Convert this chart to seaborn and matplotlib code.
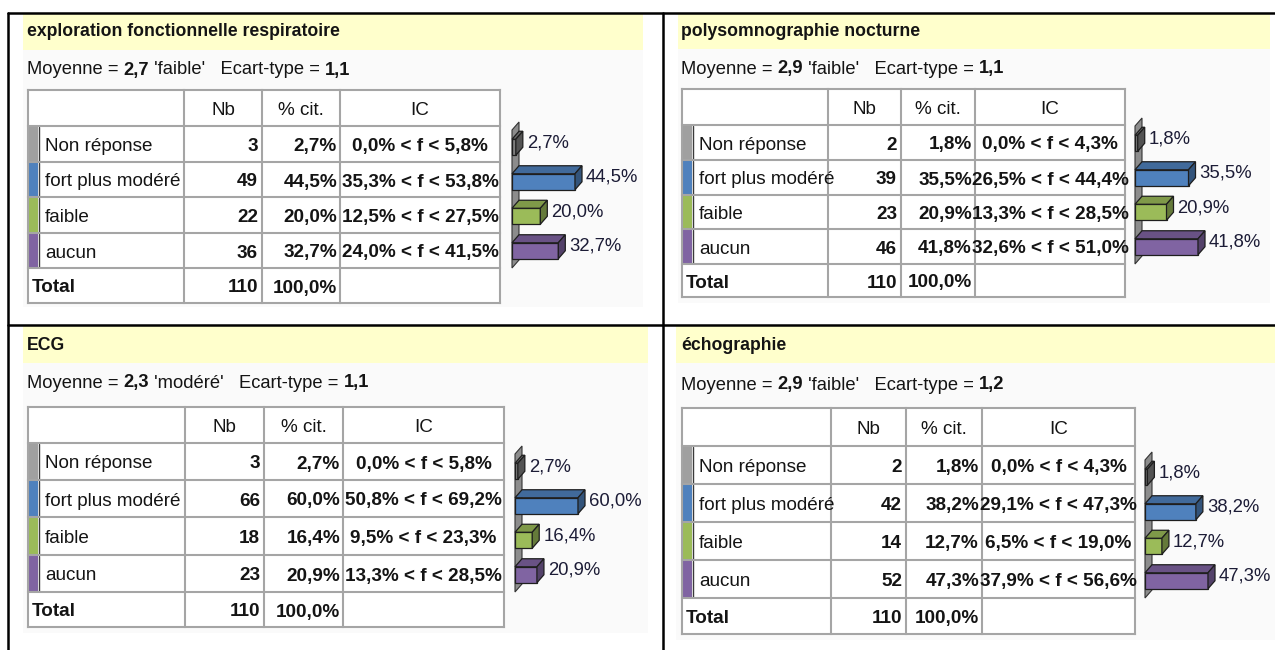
import matplotlib
matplotlib.use("Agg")
import matplotlib.pyplot as plt
import pandas as pd
import seaborn as sns
from matplotlib.patches import Polygon, Rectangle

# ---------------------------------------------------------------------
# data
# ---------------------------------------------------------------------
categories = ["Non réponse", "fort plus modéré", "faible", "aucun"]

titles = ["exploration fonctionnelle respiratoire", "polysomnographie nocturne",
          "ECG", "échographie"]
moyennes = ["2,7", "2,9", "2,3", "2,9"]
moyenne_labels = ["'faible'", "'faible'", "'modéré'", "'faible'"]
ecarts = ["1,1", "1,1", "1,1", "1,2"]
totals = [110, 110, 110, 110]

nb_efr = [3, 49, 22, 36]
pct_efr = [2.7, 44.5, 20.0, 32.7]
ic_low_efr = [0.0, 35.3, 12.5, 24.0]
ic_high_efr = [5.8, 53.8, 27.5, 41.5]

nb_psg = [2, 39, 23, 46]
pct_psg = [1.8, 35.5, 20.9, 41.8]
ic_low_psg = [0.0, 26.5, 13.3, 32.6]
ic_high_psg = [4.3, 44.4, 28.5, 51.0]

nb_ecg = [3, 66, 18, 23]
pct_ecg = [2.7, 60.0, 16.4, 20.9]
ic_low_ecg = [0.0, 50.8, 9.5, 13.3]
ic_high_ecg = [5.8, 69.2, 23.3, 28.5]

nb_echo = [2, 42, 14, 52]
pct_echo = [1.8, 38.2, 12.7, 47.3]
ic_low_echo = [0.0, 29.1, 6.5, 37.9]
ic_high_echo = [4.3, 47.3, 19.0, 56.6]

stripe_colors = ["#a0a0a0", "#4f81bd", "#9bbb59", "#8064a2"]
bar_colors = ["#7f7f7f", "#4f81bd", "#9bbb59", "#8064a2"]

# ---------------------------------------------------------------------
# layout (pixels, origin top-left)
# ---------------------------------------------------------------------
W, H = 1275, 650
LAYOUT = [
    dict(band=(23, 14, 643, 50), bg_bottom=307, title_y=32, sub_y=70, text_x=27,
         cols=[28, 184, 262, 340, 500], rows=[90, 126, 162, 197, 233, 268, 303], wall_x=512),
    dict(band=(678, 14, 1270, 49), bg_bottom=303, title_y=32, sub_y=69, text_x=681,
         cols=[682, 828, 901, 975, 1125], rows=[89, 125, 160, 195, 229, 264, 297], wall_x=1135),
    dict(band=(23, 326, 648, 363), bg_bottom=633, title_y=346, sub_y=383, text_x=27,
         cols=[28, 185, 264, 343, 504], rows=[407, 443, 480, 517, 555, 592, 627], wall_x=515),
    dict(band=(676, 326, 1275, 363), bg_bottom=640, title_y=346, sub_y=385, text_x=681,
         cols=[682, 831, 906, 982, 1135], rows=[408, 446, 484, 522, 560, 598, 634], wall_x=1145),
]

FS = 13.6
TXT = "#141414"
GRID = "#a5a5a5"
AXW = 130
SLOT = 34.5
BAR_PX = 16
DEPTH = (7, 8)


def pct_fmt(v):
    return f"{v:.1f}".replace(".", ",") + "%"


def draw_panel(fig, ax0, lay, title, moy, moy_lab, ecart, total, nb, pct, lo, hi):
    x0, y0, x1, y1 = lay["band"]
    ax0.add_patch(Rectangle((x0, y1), x1 - x0, lay["bg_bottom"] - y1, color="#fafafa", lw=0))
    ax0.add_patch(Rectangle((x0, y0), x1 - x0, y1 - y0, color="#ffffcc", lw=0))
    ax0.text(lay["text_x"], lay["title_y"], title, fontsize=12.7, fontweight="bold",
             color=TXT, va="center", ha="left")

    # subtitle with mixed weights, chained piece by piece
    pieces = [("Moyenne = ", "normal"), (moy, "bold"), (f" {moy_lab}   Ecart-type = ", "normal"),
              (ecart, "bold")]
    prev = ax0.text(lay["text_x"], lay["sub_y"], pieces[0][0], fontsize=13.2, color=TXT,
                    va="center", ha="left")
    for txt, wt in pieces[1:]:
        prev = ax0.annotate(txt, xy=(1, 0), xycoords=prev, fontsize=13.2, fontweight=wt,
                            color=TXT, va="bottom", ha="left")

    cols, rows = lay["cols"], lay["rows"]
    ax0.add_patch(Rectangle((cols[0], rows[0]), cols[-1] - cols[0], rows[-1] - rows[0],
                            color="white", lw=0))
    for i, cat in enumerate(categories):
        ya, yb = rows[i + 1], rows[i + 2]
        ax0.add_patch(Rectangle((cols[0] + 1, ya + 1), 9, yb - ya - 2, color=stripe_colors[i], lw=0))
        ax0.plot([cols[0] + 10.5, cols[0] + 10.5], [ya + 1, yb - 1], color="#3a3a3a", lw=1.0)
        base = (ya + yb) / 2 + 7
        ax0.text(cols[0] + 17, base, cat, fontsize=FS, color=TXT, va="baseline", ha="left")
        ax0.text(cols[2] - 4, base, str(nb[i]), fontsize=FS, fontweight="bold", color=TXT,
                 va="baseline", ha="right")
        ax0.text(cols[3] - 3, base, pct_fmt(pct[i]), fontsize=FS, fontweight="bold", color=TXT,
                 va="baseline", ha="right")
        ax0.text((cols[3] + cols[4]) / 2, base, f"{pct_fmt(lo[i])} < f < {pct_fmt(hi[i])}",
                 fontsize=FS, fontweight="bold", color=TXT, va="baseline", ha="center")

    hb = (rows[0] + rows[1]) / 2 + 7
    for j, head in enumerate(["Nb", "% cit.", "IC"]):
        ax0.text((cols[j + 1] + cols[j + 2]) / 2, hb, head, fontsize=FS, color=TXT,
                 va="baseline", ha="center")
    tb = (rows[5] + rows[6]) / 2 + 7
    ax0.text(cols[0] + 4, tb, "Total", fontsize=FS, fontweight="bold", color=TXT, va="baseline")
    ax0.text(cols[2] - 4, tb, str(total), fontsize=FS, fontweight="bold", color=TXT,
             va="baseline", ha="right")
    ax0.text(cols[3] - 3, tb, pct_fmt(100.0), fontsize=FS, fontweight="bold", color=TXT,
             va="baseline", ha="right")

    for y in rows:
        ax0.plot([cols[0], cols[-1]], [y, y], color=GRID, lw=1.5, solid_capstyle="projecting")
    for x in cols:
        ax0.plot([x, x], [rows[0], rows[-1]], color=GRID, lw=1.5, solid_capstyle="projecting")

    # 3D-ish horizontal bar chart
    front_bot = rows[5]
    ax = fig.add_axes([lay["wall_x"] / W, 1 - front_bot / H, AXW / W, 4 * SLOT / H])
    df = pd.DataFrame({"cat": categories, "pct": pct})
    sns.barplot(data=df, x="pct", y="cat", hue="cat", palette=bar_colors, orient="h",
                width=BAR_PX / SLOT, saturation=1, edgecolor="#1e1e1e", linewidth=0.9,
                legend=False, ax=ax)
    xmax = max(pct) * AXW / 63
    ax.set_xlim(0, xmax)
    ax.set_ylim(3.5, -0.5)
    ax.axis("off")
    dx = DEPTH[0] * xmax / AXW
    dy = DEPTH[1] / SLOT

    ax.add_patch(Polygon([(0, 3.5), (0, -0.5), (dx, -0.5 - dy), (dx, 3.5 - dy)],
                         closed=True, fc="#8c8c8c", ec="#333333", lw=0.8, zorder=0.5,
                         clip_on=False))
    for i, p in enumerate(ax.patches[:len(categories)]):
        v, yt, h = p.get_width(), p.get_y(), p.get_height()
        p.set_zorder(2)
        p.set_clip_on(False)
        col = bar_colors[i]
        rgb = matplotlib.colors.to_rgb(col)
        top_c = tuple(c * 0.82 for c in rgb)
        side_c = tuple(c * 0.65 for c in rgb)
        ax.add_patch(Polygon([(0, yt), (v, yt), (v + dx, yt - dy), (dx, yt - dy)], closed=True,
                             fc=top_c, ec="#1e1e1e", lw=0.9, zorder=2, clip_on=False))
        ax.add_patch(Polygon([(v, yt), (v, yt + h), (v + dx, yt + h - dy), (v + dx, yt - dy)],
                             closed=True, fc=side_c, ec="#1e1e1e", lw=0.9, zorder=2,
                             clip_on=False))
        ax.text(v + dx + 4 * xmax / AXW, yt + 3.5 / SLOT, pct_fmt(pct[i]), fontsize=13.3,
                color="#1c1c36", va="center", ha="left", clip_on=False)


sns.set_style("white")
plt.rcParams["font.family"] = ["Liberation Sans", "DejaVu Sans"]

fig = plt.figure(figsize=(W / 100, H / 100), dpi=100)
fig.patch.set_facecolor("white")
ax0 = fig.add_axes([0, 0, 1, 1])
ax0.set_xlim(0, W)
ax0.set_ylim(H, 0)
ax0.axis("off")

datasets = [
    (nb_efr, pct_efr, ic_low_efr, ic_high_efr),
    (nb_psg, pct_psg, ic_low_psg, ic_high_psg),
    (nb_ecg, pct_ecg, ic_low_ecg, ic_high_ecg),
    (nb_echo, pct_echo, ic_low_echo, ic_high_echo),
]
for k, lay in enumerate(LAYOUT):
    nb, pct, lo, hi = datasets[k]
    draw_panel(fig, ax0, lay, titles[k], moyennes[k], moyenne_labels[k], ecarts[k],
               totals[k], nb, pct, lo, hi)

# black frame
ax0.plot([8, W], [13, 13], color="black", lw=1.8)
ax0.plot([8, 8], [13, H], color="black", lw=1.8)
ax0.plot([663, 663], [13, H], color="black", lw=1.8)
ax0.plot([8, W], [324.5, 324.5], color="black", lw=1.8)

fig.savefig("out.png", dpi=100)
